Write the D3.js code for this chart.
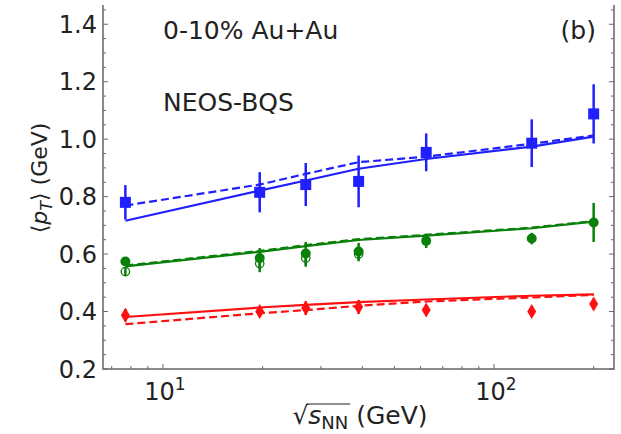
<!DOCTYPE html>
<html>
<head>
<meta charset="utf-8">
<script src="https://cdn.jsdelivr.net/npm/d3@7"></script>
<style>
  body { margin: 0; background: #fff; }
  text { font-family: "DejaVu Sans", sans-serif; fill: #222; }
</style>
</head>
<body>
<div id="chart"></div>
<script>
var svgWidth = 621;
var svgHeight = 434;

// plot frame in pixels
var margin = { top: 5, right: 7, bottom: 65, left: 103 };
var chartWidth = svgWidth - margin.left - margin.right;
var chartHeight = svgHeight - margin.top - margin.bottom;

// collision energies (GeV)
var energies = [7.7, 19.6, 27, 39, 62.4, 130, 200];

// data: blue squares
var blueData = [0.780, 0.815, 0.842, 0.853, 0.954, 0.986, 1.088];
var blueErr  = [0.060, 0.070, 0.075, 0.090, 0.066, 0.083, 0.103];
// data: green circles (filled) and open circles
var greenData = [0.574, 0.586, 0.602, 0.609, 0.646, 0.654, 0.710];
var greenErr  = [0.012, 0.035, 0.040, 0.030, 0.025, 0.020, 0.068];
var greenOpenEnergies = [7.7, 19.6, 27, 39];
var greenOpen = [0.539, 0.567, 0.586, 0.600];
var greenOpenErr = [0.015, 0.030, 0.030, 0.025];
// data: red diamonds
var redData = [0.387, 0.400, 0.412, 0.416, 0.405, 0.400, 0.426];
var redErr  = [0.022, 0.016, 0.024, 0.024, 0.012, 0.010, 0.018];

// model curves
var blueSolid  = [0.716, 0.821, 0.856, 0.897, 0.931, 0.974, 1.009];
var blueDashed = [0.769, 0.842, 0.879, 0.920, 0.939, 0.984, 1.013];
var greenSolid  = [0.557, 0.608, 0.628, 0.649, 0.664, 0.690, 0.713];
var greenDashed = [0.560, 0.611, 0.631, 0.652, 0.667, 0.692, 0.715];
var redSolid  = [0.381, 0.414, 0.423, 0.433, 0.442, 0.455, 0.460];
var redDashed = [0.356, 0.394, 0.405, 0.420, 0.435, 0.449, 0.458];

var yTickValues = [0.2, 0.4, 0.6, 0.8, 1.0, 1.2, 1.4];

var colBlue = "#2020ff";
var colGreen = "#0a800a";
var colRed = "#ff1010";
var axisColor = "#666";

var svg = d3.select("#chart").append("svg")
  .attr("width", svgWidth)
  .attr("height", svgHeight);

var chartGroup = svg.append("g")
  .attr("transform", `translate(${margin.left}, ${margin.top})`);

var xScale = d3.scaleLog()
  .domain([6.59, 230.4])
  .range([0, chartWidth]);

var yScale = d3.scaleLinear()
  .domain([0.2, 1.467])
  .range([chartHeight, 0]);

// minor and major ticks, pointing inward
var yMinor = d3.range(0.25, 1.466, 0.05).filter(function(v) {
  return Math.abs(Math.round(v * 5) - v * 5) > 0.01;
});
var xMinor = [7, 8, 9, 20, 30, 40, 50, 60, 70, 80, 90, 200];

function drawYTicks(x0, dir) {
  chartGroup.selectAll(null).data(yTickValues).enter().append("line")
    .attr("x1", x0).attr("x2", x0 + dir * 5)
    .attr("y1", function(d) { return yScale(d); })
    .attr("y2", function(d) { return yScale(d); })
    .attr("stroke", axisColor).attr("stroke-width", 1);
  chartGroup.selectAll(null).data(yMinor).enter().append("line")
    .attr("x1", x0).attr("x2", x0 + dir * 3)
    .attr("y1", function(d) { return yScale(d); })
    .attr("y2", function(d) { return yScale(d); })
    .attr("stroke", axisColor).attr("stroke-width", 1);
}
drawYTicks(0, 1);
drawYTicks(chartWidth, -1);

chartGroup.selectAll(null).data([10, 100]).enter().append("line")
  .attr("x1", function(d) { return xScale(d); })
  .attr("x2", function(d) { return xScale(d); })
  .attr("y1", chartHeight).attr("y2", chartHeight - 5)
  .attr("stroke", axisColor);
chartGroup.selectAll(null).data(xMinor).enter().append("line")
  .attr("x1", function(d) { return xScale(d); })
  .attr("x2", function(d) { return xScale(d); })
  .attr("y1", chartHeight).attr("y2", chartHeight - 3)
  .attr("stroke", axisColor);

// frame (top spine is cut off in the original)
chartGroup.append("path")
  .attr("d", `M0,0V${chartHeight}H${chartWidth}V0`)
  .attr("fill", "none")
  .attr("stroke", axisColor)
  .attr("stroke-width", 1.5);

// y tick labels
chartGroup.selectAll(null).data(yTickValues).enter().append("text")
  .attr("x", -6)
  .attr("y", function(d) { return yScale(d); })
  .attr("dy", "0.36em")
  .attr("text-anchor", "end")
  .style("font-size", "24px")
  .text(function(d) { return d.toFixed(1); });

// x tick labels 10^1, 10^2
[1, 2].forEach(function(p) {
  var t = chartGroup.append("text")
    .attr("x", xScale(Math.pow(10, p)) + 2)
    .attr("y", chartHeight + 31)
    .attr("text-anchor", "middle")
    .style("font-size", "24px");
  t.append("tspan").text("10");
  t.append("tspan").attr("dy", -10).style("font-size", "17px").text(p);
});

// model lines
var line = d3.line()
  .x(function(d, i) { return xScale(energies[i]); })
  .y(function(d) { return yScale(d); });

function drawCurve(values, color, dashed) {
  chartGroup.append("path")
    .datum(values)
    .attr("d", line)
    .attr("fill", "none")
    .attr("stroke", color)
    .attr("stroke-width", 2.2)
    .attr("stroke-dasharray", dashed ? "8,4" : null);
}
drawCurve(blueSolid, colBlue, false);
drawCurve(blueDashed, colBlue, true);
drawCurve(greenSolid, colGreen, false);
drawCurve(greenDashed, colGreen, true);
drawCurve(redSolid, colRed, false);
drawCurve(redDashed, colRed, true);

// error bars
function drawErrors(xs, values, errs, color) {
  chartGroup.selectAll(null).data(values).enter().append("line")
    .attr("x1", function(d, i) { return xScale(xs[i]); })
    .attr("x2", function(d, i) { return xScale(xs[i]); })
    .attr("y1", function(d, i) { return yScale(d - errs[i]); })
    .attr("y2", function(d, i) { return yScale(d + errs[i]); })
    .attr("stroke", color)
    .attr("stroke-width", 2.5);
}
drawErrors(energies, blueData, blueErr, colBlue);
drawErrors(greenOpenEnergies, greenOpen, greenOpenErr, colGreen);
drawErrors(energies, greenData, greenErr, colGreen);
drawErrors(energies, redData, redErr, colRed);

// markers
chartGroup.selectAll(null).data(blueData).enter().append("rect")
  .attr("x", function(d, i) { return xScale(energies[i]) - 5.5; })
  .attr("y", function(d) { return yScale(d) - 5.5; })
  .attr("width", 11).attr("height", 11)
  .attr("fill", colBlue);

chartGroup.selectAll(null).data(greenOpen).enter().append("circle")
  .attr("cx", function(d, i) { return xScale(greenOpenEnergies[i]); })
  .attr("cy", function(d) { return yScale(d); })
  .attr("r", 4.2)
  .attr("fill", "none")
  .attr("stroke", colGreen)
  .attr("stroke-width", 1.3);

chartGroup.selectAll(null).data(greenData).enter().append("circle")
  .attr("cx", function(d, i) { return xScale(energies[i]); })
  .attr("cy", function(d) { return yScale(d); })
  .attr("r", 5)
  .attr("fill", colGreen);

chartGroup.selectAll(null).data(redData).enter().append("path")
  .attr("transform", function(d, i) {
    return `translate(${xScale(energies[i])},${yScale(d)})`;
  })
  .attr("d", "M0,-7.5L4.5,0L0,7.5L-4.5,0Z")
  .attr("fill", colRed);

// annotations
svg.append("text").attr("x", 163).attr("y", 39)
  .style("font-size", "25px").text("0-10% Au+Au");
svg.append("text").attr("x", 596).attr("y", 39)
  .attr("text-anchor", "end")
  .style("font-size", "25px").text("(b)");
svg.append("text").attr("x", 163).attr("y", 111)
  .style("font-size", "25px").text("NEOS-BQS");

// y axis label
var yLabel = svg.append("text")
  .attr("transform", "translate(47, 178) rotate(-90)")
  .attr("text-anchor", "middle")
  .style("font-size", "22px");
yLabel.append("tspan").text("\u27E8");
yLabel.append("tspan").style("font-style", "italic").text("p");
yLabel.append("tspan").attr("dy", 5).style("font-size", "16px")
  .style("font-style", "italic").text("T");
yLabel.append("tspan").attr("dy", -5).text("\u27E9 (GeV)");

// x axis label
var xBase = 424;
var xLabel = svg.append("text")
  .attr("x", 360)
  .attr("y", xBase)
  .attr("text-anchor", "middle")
  .style("font-size", "25px");
xLabel.append("tspan").text("\u221A");
xLabel.append("tspan").style("font-style", "italic").text("s");
xLabel.append("tspan").attr("dy", 5).style("font-size", "18px").text("NN");
xLabel.append("tspan").attr("dy", -5).text(" (GeV)");

// overline of the square root
var node = xLabel.node();
var rootEnd = node.getEndPositionOfChar(0);
var nnEnd = node.getEndPositionOfChar(3);
svg.append("line")
  .attr("x1", rootEnd.x - 1).attr("x2", nnEnd.x + 2)
  .attr("y1", xBase - 20).attr("y2", xBase - 20)
  .attr("stroke", "#222").attr("stroke-width", 1.2);
</script>
</body>
</html>
